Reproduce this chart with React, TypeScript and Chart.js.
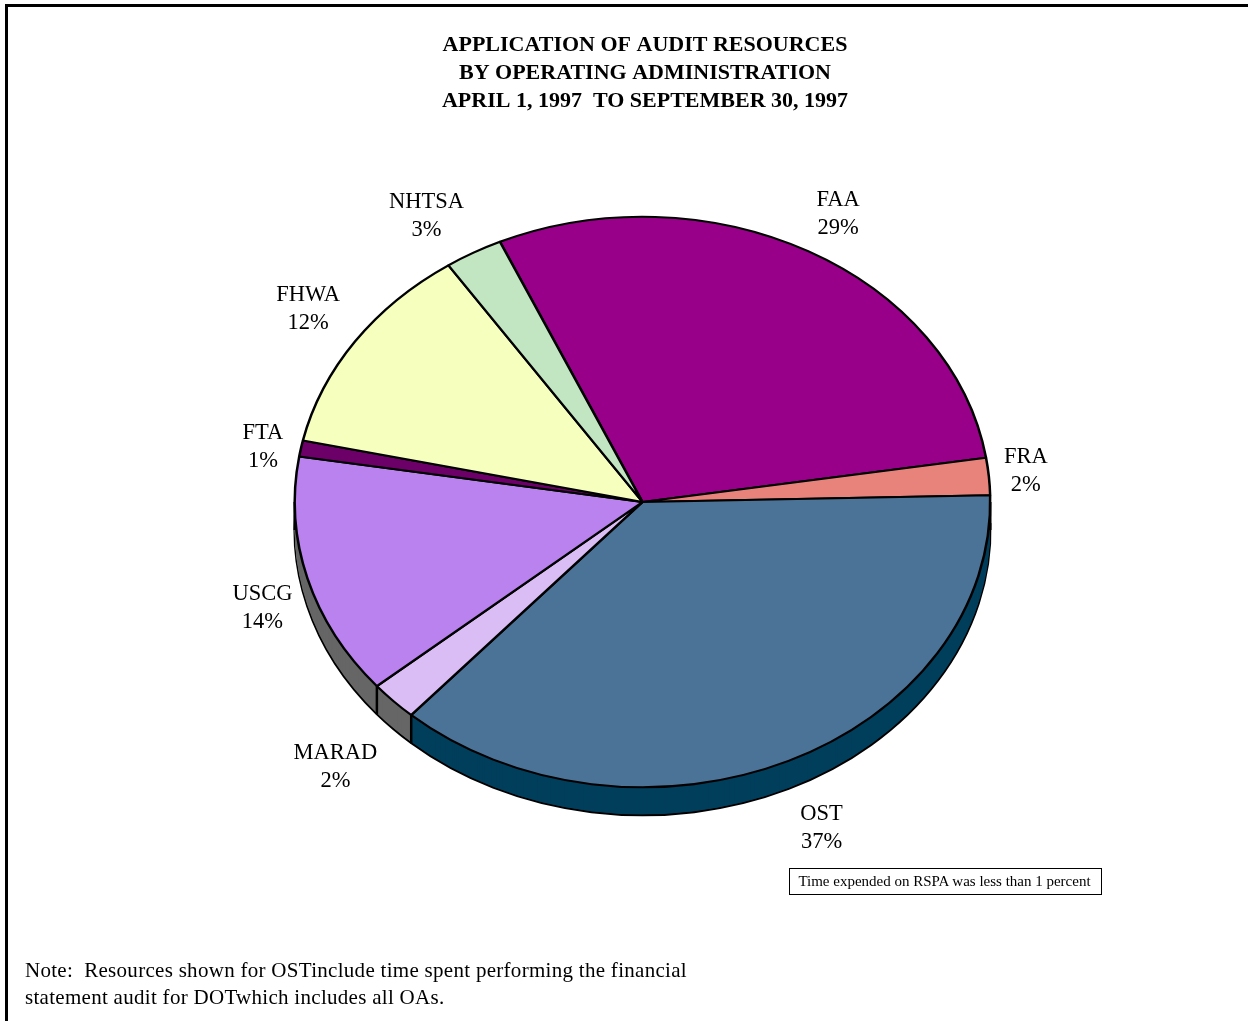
import React, { useEffect, useRef } from "react";
import { Chart, registerables } from "chart.js";

Chart.register(...registerables);

const titleLines = [
  "APPLICATION OF AUDIT RESOURCES",
  "BY OPERATING ADMINISTRATION",
  "APRIL 1, 1997  TO SEPTEMBER 30, 1997",
];
const categories = ["FAA", "FRA", "OST", "MARAD", "USCG", "FTA", "FHWA", "NHTSA"];
const values = [29.2, 2.1, 36.9, 2.25, 13.7, 0.9, 12.1, 2.7];
const sliceColors = ["#99008A", "#E8837C", "#4A7397", "#DBBDF5", "#B982EE", "#6C0068", "#F6FFBE", "#C2E6C2"];
const sideColors = [null, null, "#003F5C", "#666666", "#666666", null, null, null];
const labelOffsets = [
  [30, -52], [37, -20], [33, 52], [-58, 51], [-45, 15], [-38, -16], [-47, -47], [-47, -52],
];
const noteLines = [
  "Note:  Resources shown for OSTinclude time spent performing the financial",
  "statement audit for DOTwhich includes all OAs.",
];
const boxText = "Time expended on RSPA was less than 1 percent";

const SERIF = '"Liberation Serif", "Times New Roman", serif';
const SQUASH = 285.5 / 348;
const DEPTH = 28;
const SHIFT_X = -2.5;
const SHIFT_Y = -1;

const tiltedPie = {
  id: "tiltedPie",
  beforeDatasetDraw(chart: any, args: any) {
    const ctx = chart.ctx;
    const arcs = args.meta.data;
    const cx = arcs[0].x;
    const cy = arcs[0].y;
    const place = (dy: number) => {
      ctx.translate(cx + SHIFT_X, cy + SHIFT_Y + dy);
      ctx.scale(1, SQUASH);
      ctx.translate(-cx, -cy);
    };
    const copy = (el: any, over: any) => {
      const c = Object.create(el);
      c.options = { ...el.options, ...over };
      return c;
    };
    // bottom rim, then side band
    arcs.forEach((el: any, i: number) => {
      if (!sideColors[i]) return;
      ctx.save();
      place(DEPTH);
      copy(el, { backgroundColor: sideColors[i], borderColor: "#000", borderWidth: 2.5 }).draw(ctx);
      ctx.restore();
    });
    for (let d = DEPTH - 1; d >= 1; d--) {
      arcs.forEach((el: any, i: number) => {
        if (!sideColors[i]) return;
        ctx.save();
        place(d);
        copy(el, { backgroundColor: sideColors[i], borderWidth: 0 }).draw(ctx);
        ctx.restore();
      });
    }
    // vertical edges of the band
    ctx.save();
    ctx.strokeStyle = "#000";
    ctx.lineWidth = 2.5;
    const edge = (a: number, r: number) => {
      const x = cx + SHIFT_X + r * Math.cos(a);
      const y = cy + SHIFT_Y + r * SQUASH * Math.sin(a);
      ctx.beginPath();
      ctx.moveTo(x, y);
      ctx.lineTo(x, y + DEPTH);
      ctx.stroke();
    };
    const r = arcs[0].outerRadius;
    edge(0, r);
    edge(Math.PI, r);
    arcs.forEach((el: any, i: number) => {
      if (i > 2 && sideColors[i]) edge(el.startAngle, r);
    });
    ctx.restore();
    // top face
    ctx.save();
    place(0);
  },
  afterDatasetDraw(chart: any) {
    chart.ctx.restore();
  },
  afterDraw(chart: any) {
    const ctx = chart.ctx;
    const arcs = chart.getDatasetMeta(0).data;
    const total = values.reduce((a, b) => a + b, 0);
    ctx.save();
    ctx.fillStyle = "#000";
    ctx.font = `22.5px ${SERIF}`;
    ctx.textAlign = "center";
    ctx.textBaseline = "middle";
    arcs.forEach((el: any, i: number) => {
      const mid = (el.startAngle + el.endAngle) / 2;
      const x = el.x + SHIFT_X + el.outerRadius * Math.cos(mid) + labelOffsets[i][0];
      const y = el.y + el.outerRadius * SQUASH * Math.sin(mid) + labelOffsets[i][1];
      ctx.fillText(categories[i], x, y);
      ctx.fillText(`${Math.round((values[i] / total) * 100)}%`, x, y + 28);
    });
    ctx.restore();
  },
};

export default function App() {
  const ref = useRef<HTMLCanvasElement>(null);
  useEffect(() => {
    document.body.style.margin = "0";
    document.body.style.overflow = "hidden";
    const chart = new Chart(ref.current as HTMLCanvasElement, {
      type: "pie",
      data: {
        labels: categories,
        datasets: [
          {
            data: values,
            backgroundColor: sliceColors,
            borderColor: "#000000",
            borderWidth: 2.5,
          },
        ],
      },
      options: {
        responsive: false,
        animation: false,
        devicePixelRatio: 1,
        rotation: -24.2,
        layout: { padding: { left: 296, right: 254, top: 31, bottom: 169 } },
        plugins: {
          legend: { display: false },
          tooltip: { enabled: false },
          title: {
            display: true,
            text: titleLines,
            color: "#000",
            font: { family: SERIF, size: 22, weight: "bold", lineHeight: 28 / 22 },
            padding: { top: 0, bottom: 39 },
          },
        },
      },
      plugins: [tiltedPie],
    } as any);
    return () => chart.destroy();
  }, []);

  return (
    <div style={{ position: "absolute", left: 0, top: 0, width: 1248, height: 1021, overflow: "hidden", background: "#fff" }}>
      <canvas ref={ref} width={1248} height={1021} style={{ display: "block" }} />
      <div style={{ position: "absolute", left: 5, top: 4, width: 1300, height: 1100, borderTop: "3px solid #000", borderLeft: "3px solid #000" }} />
      <div
        style={{
          position: "absolute", left: 789, top: 868, width: 309, paddingRight: 2, height: 25, border: "1px solid #000",
          fontFamily: SERIF, fontSize: 15, lineHeight: "24px", textAlign: "center", whiteSpace: "pre",
        }}
      >
        {boxText}
      </div>
      <div style={{ position: "absolute", left: 25, top: 957, fontFamily: SERIF, fontSize: 21, lineHeight: "27px", whiteSpace: "pre", letterSpacing: 0.29 }}>
        {noteLines.map((l) => (
          <div key={l}>{l}</div>
        ))}
      </div>
    </div>
  );
}
